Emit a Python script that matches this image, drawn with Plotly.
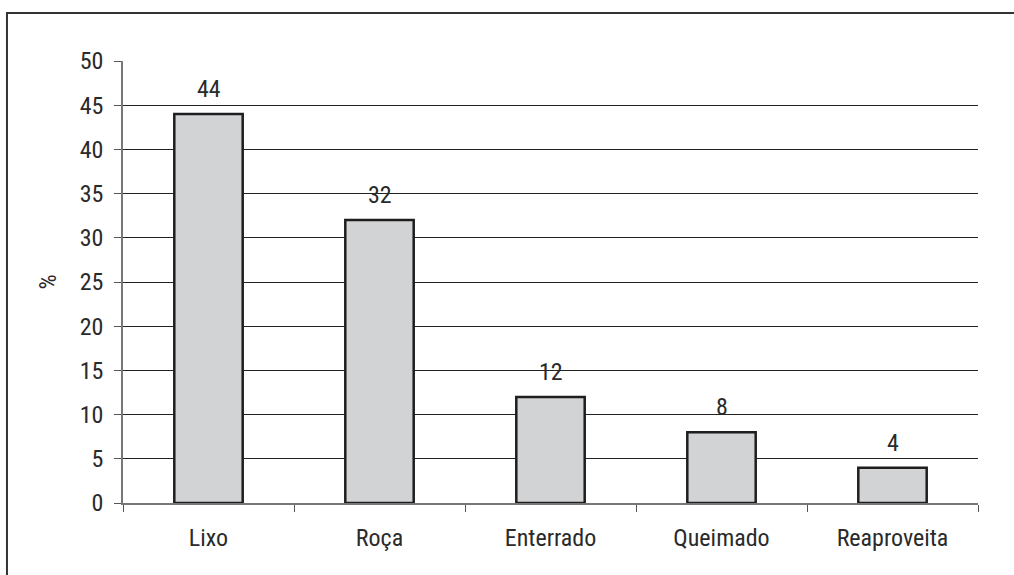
import plotly.graph_objects as go

categories = ["Lixo", "Roça", "Enterrado", "Queimado", "Reaproveita"]
values = [44, 32, 12, 8, 4]
y_ticks = [0, 5, 10, 15, 20, 25, 30, 35, 40, 45, 50]
grid_ticks = [5, 10, 15, 20, 25, 30, 35, 40, 45]

FONT = "Liberation Sans Narrow, Arial Narrow, Roboto Condensed, Liberation Sans, sans-serif"
FS = 24
TXT = "#2a2a2a"

fig = go.Figure()
fig.add_trace(go.Scatter(x=[categories[0]], y=[0], yaxis="y2", mode="markers",
                         marker=dict(opacity=0), hoverinfo="skip"))
fig.add_trace(go.Bar(
    x=categories, y=values, width=0.4,
    marker=dict(color="#d2d3d5", line=dict(color="#1e1e1e", width=2.5)),
    hoverinfo="skip",
))

for c, v in zip(categories, values):
    fig.add_annotation(x=c, y=v, text=str(v), showarrow=False,
                       yanchor="bottom", yshift=9,
                       font=dict(family=FONT, size=FS, color=TXT))

fig.update_layout(
    width=1014, height=575,
    margin=dict(l=123, r=36, t=61, b=72),
    paper_bgcolor="white", plot_bgcolor="white",
    showlegend=False,
    font=dict(family=FONT, size=FS, color=TXT),
    xaxis=dict(
        type="category", tickson="boundaries", ticks="outside", ticklen=7,
        tickcolor="#555", showline=True, linecolor="#777", linewidth=1.5,
        showgrid=False, ticklabelstandoff=12,
        tickfont=dict(family=FONT, size=FS, color=TXT),
    ),
    yaxis=dict(
        range=[0, 50], tickvals=y_ticks, ticks="outside", ticklen=7,
        tickcolor="#555", showline=True, linecolor="#777", linewidth=1.5,
        showgrid=False, zeroline=False, ticklabelstandoff=6,
        title=dict(text="%", standoff=16, font=dict(family=FONT, size=FS, color=TXT)),
        tickfont=dict(family=FONT, size=FS, color=TXT),
    ),
    yaxis2=dict(
        range=[0, 50], overlaying="y", tickvals=grid_ticks, showticklabels=False,
        showgrid=True, gridcolor="#222", gridwidth=1, zeroline=False, showline=False,
    ),
    shapes=[dict(type="rect", xref="paper", yref="paper",
                 x0=-0.1357, x1=1.3, y0=-0.4, y1=1.1086,
                 line=dict(color="#333", width=2), layer="below")],
)

fig.write_html("out.html")
